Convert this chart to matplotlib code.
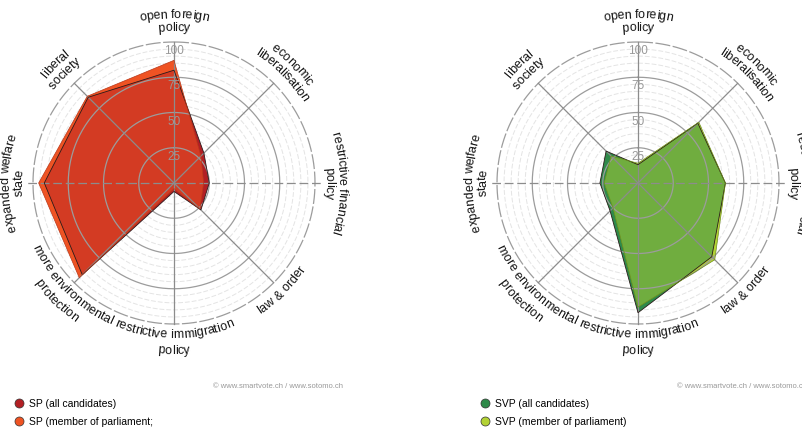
import numpy as np
import matplotlib
matplotlib.use("Agg")
import matplotlib.pyplot as plt
from matplotlib.font_manager import FontProperties, findfont
from matplotlib.ft2font import FT2Font, LoadFlags, Kerning
from matplotlib.lines import Line2D

plt.rcParams['font.family'] = ['Liberation Sans', 'DejaVu Sans']

# axes, clockwise from the top
categories = ["open foreign\npolicy", "economic\nliberalisation",
              "restrictive financial\npolicy", "law & order",
              "restrictive immigration\npolicy", "more environmental\nprotection",
              "expanded welfare\nstate", "liberal\nsociety"]

sp_all = [80, 30, 25, 27, 6, 92, 92, 86]
sp_mp = [87, 27, 21, 26, 4, 95, 96, 87]
svp_all = [13, 60, 62, 74, 92, 28, 27, 32]
svp_mp = [14, 61, 62, 77, 88, 25, 24, 27]

sp_labels = ["SP (all candidates)", "SP (member of parliament;"]
svp_labels = ["SVP (all candidates)", "SVP (member of parliament)"]
credit = "\u00a9 www.smartvote.ch / www.sotomo.ch"

major_rings = [25, 50, 75, 100]
minor_rings = [r for r in range(5, 100, 5) if r % 25]

W, H = 803, 434
DPI = 100
R_PX = 141.0
PX_PER_UNIT = R_PX / 100
THETA = np.arange(len(categories)) * 2 * np.pi / len(categories)
LABEL_SIZE = 9.0

fig = plt.figure(figsize=(W / DPI, H / DPI), dpi=DPI)
label_prop = FontProperties(family=['Liberation Sans'], size=LABEL_SIZE)
ft = FT2Font(findfont(label_prop))
ft.set_size(LABEL_SIZE, DPI)


def char_offsets(s):
    # glyph centres along the line, in pixels, from unhinted advances + kerning
    pos, x, prev = [], 0.0, None
    for ch in s:
        g = ft.load_char(ord(ch), flags=LoadFlags.NO_HINTING)
        idx = ft.get_char_index(ord(ch))
        if prev is not None:
            x += ft.get_kerning(prev, idx, Kerning.UNFITTED) / 64
        adv = g.linearHoriAdvance / 65536
        pos.append(x + adv / 2)
        x += adv
        prev = idx
    return [p - x / 2 for p in pos]


def arc_text(ax, s, ang_deg, r_px, outward):
    for ch, mid in zip(s, char_offsets(s)):
        if ch == " ":
            continue
        dphi = mid / r_px
        phi = np.radians(ang_deg) + (-dphi if outward else dphi)
        rot = np.degrees(phi) - 90 if outward else np.degrees(phi) + 90
        ax.text(np.pi / 2 - phi, r_px / PX_PER_UNIT, ch, rotation=rot,
                rotation_mode='anchor', ha='center', va='center',
                fontproperties=label_prop, color='#151515', zorder=6)


def radar_patch(ax, vals, **kw):
    th = np.append(THETA, 2 * np.pi)
    rr = np.append(vals, vals[0])
    p, = ax.fill(th, rr, **kw)
    return p


def radar(cx, cy, all_vals, mp_vals, c_all, c_mp, e_mp, alpha):
    ax = fig.add_axes([(cx - R_PX) / W, (H - cy - R_PX) / H, 2 * R_PX / W, 2 * R_PX / H],
                      projection='polar')
    ax.set_theta_zero_location('N')
    ax.set_theta_direction(-1)
    ax.set_ylim(0, 100)
    ax.set_xticks([])
    ax.set_yticks([])
    ax.grid(False)
    ax.spines['polar'].set_visible(False)

    circ = np.linspace(0, 2 * np.pi, 361)
    for r in minor_rings:
        ax.plot(circ, np.full_like(circ, r), color='#e4e4e4', lw=0.7,
                dashes=(5, 2), zorder=1, clip_on=False)

    radar_patch(ax, all_vals, color=c_all, lw=0, zorder=2)
    top = radar_patch(ax, mp_vals, color=c_mp, lw=0, zorder=2.1)
    ov = radar_patch(ax, all_vals, color=c_all, alpha=alpha, lw=0, zorder=2.2)
    ov.set_clip_path(top)

    for r in major_rings:
        kw = dict(dashes=(12, 2)) if r == 100 else {}
        ax.plot(circ, np.full_like(circ, r), color='#9c9c9c', lw=0.9,
                zorder=3, clip_on=False, **kw)
    for k, t in enumerate(THETA):
        if k % 4 == 2:
            ax.plot([t, t], [0, 104], color='#8c8c8c', lw=0.9, dashes=(7, 3),
                    zorder=3, clip_on=False)
        else:
            ax.plot([t, t], [0, 100], color='#8c8c8c', lw=0.9, zorder=3, clip_on=False)

    radar_patch(ax, all_vals, fill=False, edgecolor='#2a1a1a', lw=0.6, zorder=4)
    radar_patch(ax, mp_vals, fill=False, edgecolor=e_mp, lw=0.5, zorder=4)

    for r in major_rings:
        ax.text(0, r - 6.5, str(r), ha='center', va='center', fontsize=8.5,
                color='#999999', zorder=5)

    for k, lab in enumerate(categories):
        ang = 90 - 45 * k
        lines = lab.split("\n")
        outward = k not in (3, 4, 5)
        if outward:
            radii = [168, 155] if len(lines) == 2 else [155]
        else:
            radii = [152, 168] if len(lines) == 2 else [154]
        for line, rp in zip(lines, radii):
            arc_text(ax, line, ang, rp, outward)
    return ax


radar(174, 183, sp_all, sp_mp, '#b21f24', '#ef5323', '#b8381a', 0.45)
radar(638, 183, svp_all, svp_mp, '#2f8a4a', '#b3d235', '#6f8f1c', 0.5)

for x_right in (343, 807):
    fig.text(x_right / W, 1 - 387 / H, credit, ha='right', va='center',
             fontsize=5.5, color='#999999')


def add_legend(x_px, labels, colors):
    handles = [Line2D([], [], marker='o', ls='', markersize=6.5, markerfacecolor=c,
                      markeredgecolor='#333333', markeredgewidth=0.5, label=l)
               for l, c in zip(labels, colors)]
    fig.legend(handles=handles, loc='upper left', bbox_to_anchor=(x_px / W, 1 - 399 / H),
               frameon=False, fontsize=7.5, handlelength=0.8, handletextpad=0.6,
               labelspacing=0.75, borderpad=0, borderaxespad=0)


add_legend(14.8, sp_labels, ['#b21f24', '#ef5323'])
add_legend(480.8, svp_labels, ['#2f8a4a', '#b3d235'])

fig.savefig("out.png", dpi=DPI)
